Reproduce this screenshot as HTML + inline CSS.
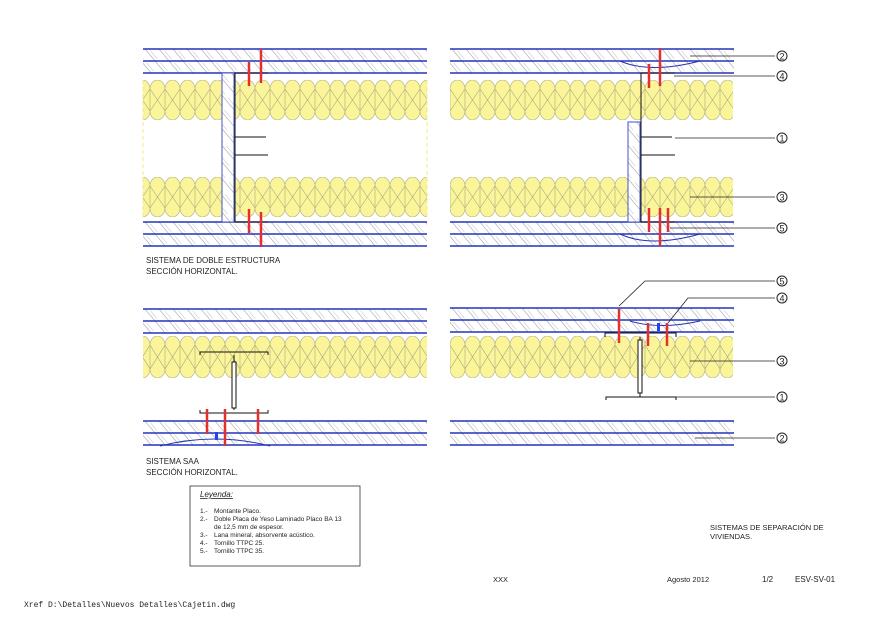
<!DOCTYPE html>
<html><head><style>body{margin:0;background:#fff}svg{display:block}text{font-family:"Liberation Sans",sans-serif;fill:#222}</style></head><body>
<svg width="880" height="622" viewBox="0 0 880 622" xmlns="http://www.w3.org/2000/svg">
<defs>
<pattern id="h" width="14" height="12" patternUnits="userSpaceOnUse" patternTransform="skewX(40)">
<rect width="14" height="12" fill="#fff"/><line x1="2" y1="0" x2="2" y2="12" stroke="#999" stroke-width="0.7"/><line x1="6" y1="2" x2="6" y2="10" stroke="#bbb" stroke-width="0.6"/></pattern>
<pattern id="i1" width="15" height="40" patternUnits="userSpaceOnUse" x="0" y="80">
<path d="M0,9 A7.5,9 0 0 1 15,9 L15,31 A7.5,9 0 0 1 0,31Z" fill="#fbf59a" stroke="#b9b58a" stroke-width="0.7"/>
<path d="M0,9 L15,31 M15,9 L0,31" stroke="#aaa77f" stroke-width="0.6"/></pattern>
<pattern id="i2" width="15" height="40" patternUnits="userSpaceOnUse" x="0" y="177">
<path d="M0,9 A7.5,9 0 0 1 15,9 L15,31 A7.5,9 0 0 1 0,31Z" fill="#fbf59a" stroke="#b9b58a" stroke-width="0.7"/>
<path d="M0,9 L15,31 M15,9 L0,31" stroke="#aaa77f" stroke-width="0.6"/></pattern>
<pattern id="i3" width="15" height="42" patternUnits="userSpaceOnUse" x="0" y="336">
<path d="M0,9 A7.5,9 0 0 1 15,9 L15,33 A7.5,9 0 0 1 0,33Z" fill="#fbf59a" stroke="#b9b58a" stroke-width="0.7"/>
<path d="M0,9 L15,33 M15,9 L0,33" stroke="#aaa77f" stroke-width="0.6"/></pattern>
<g id="boards"><rect x="0" y="0" width="284" height="24" fill="url(#h)"/>
<line x1="0" y1="0" x2="284" y2="0" stroke="#2233bb" stroke-width="1.5"/><line x1="0" y1="12" x2="284" y2="12" stroke="#2233bb" stroke-width="1.5"/><line x1="0" y1="24" x2="284" y2="24" stroke="#2233bb" stroke-width="1.5"/></g>
</defs>
<!-- TL -->
<g>
<use href="#boards" x="143" y="49"/><use href="#boards" x="143" y="222"/>
<rect x="143" y="80" width="284" height="40" fill="url(#i1)"/>
<rect x="143" y="177" width="284" height="40" fill="url(#i2)"/>
<line x1="143" y1="80" x2="143" y2="217" stroke="#f0e88a" stroke-dasharray="4,3"/><line x1="427" y1="80" x2="427" y2="217" stroke="#f0e88a" stroke-dasharray="4,3"/>
<rect x="222" y="73" width="12" height="149" fill="url(#h)" stroke="#4455cc"/>
<path d="M268,73 H235 V222 H268" fill="none" stroke="#111"/>
<path d="M235,137 H266 M235,155 H268" stroke="#111" fill="none"/>
<g stroke="#e03030" stroke-width="2.5"><line x1="261" y1="49" x2="261" y2="83"/><line x1="249" y1="62" x2="249" y2="86"/><line x1="249" y1="209" x2="249" y2="233"/><line x1="261" y1="212" x2="261" y2="247"/></g>
</g>
<text x="146" y="263" font-size="8">SISTEMA DE DOBLE ESTRUCTURA</text>
<text x="146" y="274" font-size="8">SECCIÓN HORIZONTAL.</text>
<!-- TR -->
<g>
<use href="#boards" x="450" y="49"/><use href="#boards" x="450" y="222"/>
<rect x="450" y="80" width="283" height="40" fill="url(#i1)"/>
<rect x="450" y="177" width="283" height="40" fill="url(#i2)"/>
<rect x="628" y="122" width="12" height="100" fill="url(#h)" stroke="#4455cc"/>
<path d="M675,73 H641 V222 H675 M641,137 H672 M641,155 H675" fill="none" stroke="#111"/>
<path d="M620,61 Q650,74 700,61 M620,234 Q650,248 700,234" fill="none" stroke="#2233bb"/>
<g stroke="#e03030" stroke-width="2.5"><line x1="660" y1="48" x2="660" y2="86"/><line x1="649" y1="64" x2="649" y2="88"/><line x1="649" y1="208" x2="649" y2="232"/><line x1="660" y1="208" x2="660" y2="246"/><line x1="668" y1="208" x2="668" y2="232"/></g>
</g>
<!-- BL -->
<g>
<use href="#boards" x="143" y="309"/><use href="#boards" x="143" y="421"/>
<rect x="143" y="336" width="284" height="42" fill="url(#i3)"/>
<path d="M200,355 V352 H268 V355 M234,355 V410 M200,410 V413 H268 V410" fill="none" stroke="#111"/>
<rect x="232" y="362" width="4" height="46" fill="#fff" stroke="#111"/>
<path d="M160,446 Q215,432 270,446" fill="none" stroke="#2233bb"/>
<rect x="215" y="432" width="3" height="8" fill="#2244ee"/>
<g stroke="#e03030" stroke-width="2.5"><line x1="207" y1="409" x2="207" y2="434"/><line x1="225" y1="409" x2="225" y2="446"/><line x1="258" y1="409" x2="258" y2="434"/></g>
</g>
<text x="146" y="464" font-size="8">SISTEMA SAA</text>
<text x="146" y="475" font-size="8">SECCIÓN HORIZONTAL.</text>
<!-- BR -->
<g>
<use href="#boards" x="450" y="308"/><use href="#boards" x="450" y="421"/>
<rect x="450" y="336" width="283" height="42" fill="url(#i3)"/>
<path d="M605,337 V333 H676 V337 M640,337 V397 M606,400 V397 H676 V400" fill="none" stroke="#111"/>
<rect x="638" y="340" width="4" height="53" fill="#fff" stroke="#111"/>
<path d="M630,321 Q660,330 700,321" fill="none" stroke="#2233bb"/>
<rect x="657" y="323" width="3" height="8" fill="#2244ee"/>
<g stroke="#e03030" stroke-width="2.5"><line x1="619" y1="309" x2="619" y2="343"/><line x1="648" y1="323" x2="648" y2="346"/><line x1="667" y1="323" x2="667" y2="346"/></g>
</g>
<!-- leaders -->
<g stroke="#222" stroke-width="0.8" fill="none">
<path d="M690,56 H775 M674,76 H775 M675,138 H775 M690,197 H775 M670,228 H775"/>
<path d="M619,306 L645,281 H775 M668,323 L688,298 H775 M690,361 H775 M676,397 H775 M695,438 H775"/>
</g>
<g text-anchor="middle" font-size="9">
<circle cx="782" cy="56" r="5" fill="none" stroke="#222"/><text x="782" y="59.5">2</text>
<circle cx="782" cy="76" r="5" fill="none" stroke="#222"/><text x="782" y="79.5">4</text>
<circle cx="782" cy="138" r="5" fill="none" stroke="#222"/><text x="782" y="141.5">1</text>
<circle cx="782" cy="197" r="5" fill="none" stroke="#222"/><text x="782" y="200.5">3</text>
<circle cx="782" cy="228" r="5" fill="none" stroke="#222"/><text x="782" y="231.5">5</text>
<circle cx="782" cy="281" r="5" fill="none" stroke="#222"/><text x="782" y="284.5">5</text>
<circle cx="782" cy="298" r="5" fill="none" stroke="#222"/><text x="782" y="301.5">4</text>
<circle cx="782" cy="361" r="5" fill="none" stroke="#222"/><text x="782" y="364.5">3</text>
<circle cx="782" cy="397" r="5" fill="none" stroke="#222"/><text x="782" y="400.5">1</text>
<circle cx="782" cy="438" r="5" fill="none" stroke="#222"/><text x="782" y="441.5">2</text>
</g>
<!-- legend -->
<rect x="190" y="486" width="170" height="80" fill="none" stroke="#333" stroke-width="0.8"/>
<text x="200" y="497" font-size="8" font-style="italic" text-decoration="underline">Leyenda:</text>
<g font-size="6.5"><text x="200" y="513">1.-</text><text x="214" y="513">Montante Placo.</text>
<text x="200" y="521">2.-</text><text x="214" y="521">Doble Placa de Yeso Laminado Placo BA 13</text>
<text x="214" y="529">de 12,5 mm de espesor.</text>
<text x="200" y="537">3.-</text><text x="214" y="537">Lana mineral, absorvente acústico.</text>
<text x="200" y="545">4.-</text><text x="214" y="545">Tornillo TTPC 25.</text>
<text x="200" y="553">5.-</text><text x="214" y="553">Tornillo TTPC 35.</text></g>
<text x="710" y="530" font-size="7.5">SISTEMAS DE SEPARACIÓN DE</text>
<text x="710" y="539" font-size="7.5">VIVIENDAS.</text>
<text x="493" y="582" font-size="7.5">XXX</text>
<text x="667" y="582" font-size="7.5">Agosto 2012</text>
<text x="762" y="582" font-size="8">1/2</text>
<text x="795" y="582" font-size="8">ESV-SV-01</text>
<text x="24" y="607" font-size="8" style="font-family:'Liberation Mono',monospace">Xref D:\Detalles\Nuevos Detalles\Cajetin.dwg</text>
</svg>
</body></html>
